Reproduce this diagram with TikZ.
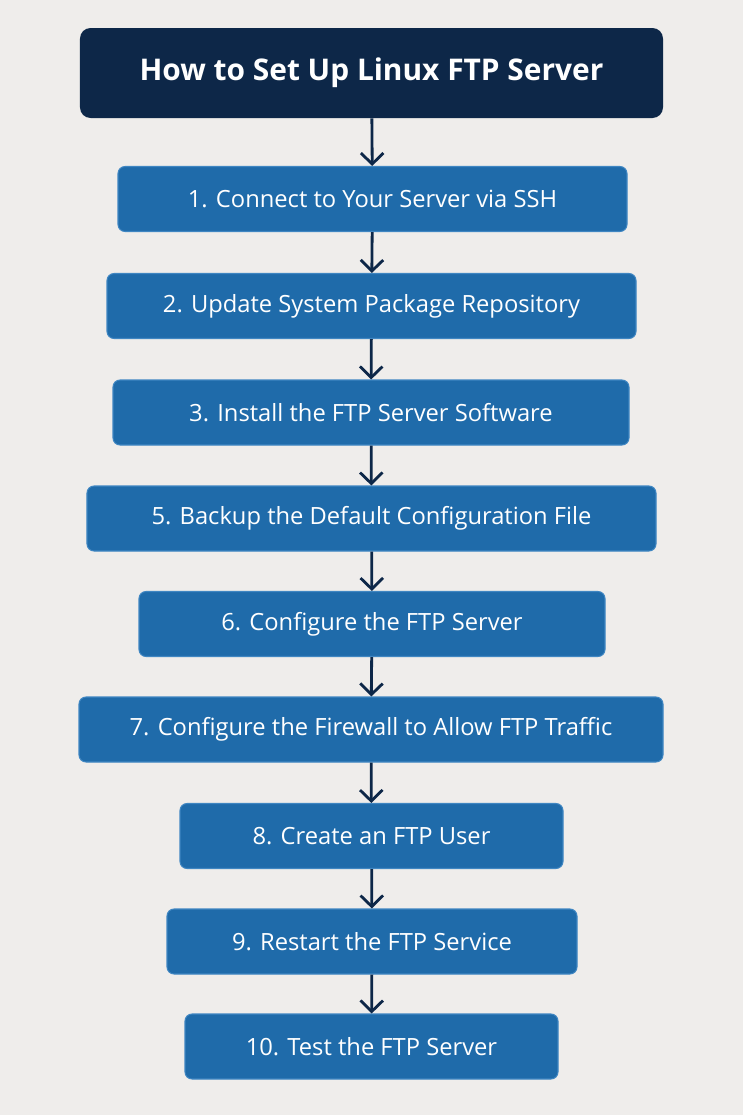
\documentclass[tikz,border=0pt]{standalone}
\usepackage{fontspec}
\setmainfont{Open Sans}
\usetikzlibrary{arrows.meta}
\definecolor{bgcol}{HTML}{EFEDEB}
\definecolor{navy}{HTML}{0D2748}
\definecolor{stepblue}{HTML}{1F6BAA}
\definecolor{stepedge}{HTML}{3F86C2}
\tikzset{
  stepbox/.style={draw=stepedge, line width=0.6pt, fill=stepblue, rounded corners=4pt, text=white, font=\fontsize{13.5}{16}\selectfont, minimum height=1.3cm, inner sep=0pt},
  flowarrow/.style={draw=navy, line width=1.6pt, -{Straight Barb[length=2.2mm,width=4.5mm]}}
}
\begin{document}
\begin{tikzpicture}
\fill[bgcol] (0,0) rectangle (14.86,-22.3);
\useasboundingbox (0,0) rectangle (14.86,-22.3);
\node[fill=navy, rounded corners=6pt, text=white, minimum width=11.66cm, minimum height=1.8cm, font=\fontsize{17}{20}\selectfont\bfseries] (title) at (7.43,-1.46) {How to Set Up Linux FTP Server};
\node[stepbox, minimum width=10.18cm] (s1) at (7.45,-3.98) {1. Connect to Your Server via SSH};
\node[stepbox, minimum width=10.58cm] (s2) at (7.43,-6.12) {2. Update System Package Repository};
\node[stepbox, minimum width=10.32cm] (s3) at (7.42,-8.25) {3. Install the FTP Server Software};
\node[stepbox, minimum width=11.38cm] (s5) at (7.43,-10.37) {5. Backup the Default Configuration File};
\node[stepbox, minimum width=9.32cm] (s6) at (7.44,-12.48) {6. Configure the FTP Server};
\node[stepbox, minimum width=11.68cm] (s7) at (7.42,-14.59) {7. Configure the Firewall to Allow FTP Traffic};
\node[stepbox, minimum width=7.66cm] (s8) at (7.43,-16.72) {8. Create an FTP User};
\node[stepbox, minimum width=8.2cm] (s9) at (7.44,-18.83) {9. Restart the FTP Service};
\node[stepbox, minimum width=7.46cm] (s10) at (7.43,-20.93) {10. Test the FTP Server};
\draw[flowarrow] (title) -- (s1);
\draw[flowarrow] (s1) -- (s2);
\draw[flowarrow] (s2) -- (s3);
\draw[flowarrow] (s3) -- (s5);
\draw[flowarrow] (s5) -- (s6);
\draw[flowarrow] (s6) -- (s7);
\draw[flowarrow] (s7) -- (s8);
\draw[flowarrow] (s8) -- (s9);
\draw[flowarrow] (s9) -- (s10);
\end{tikzpicture}
\end{document}
